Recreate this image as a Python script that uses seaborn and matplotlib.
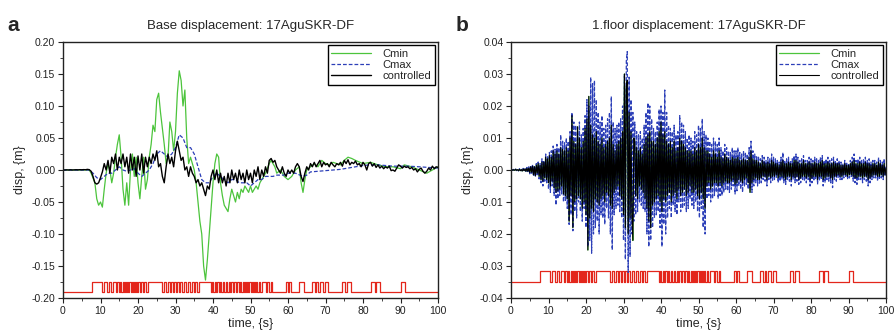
import numpy as np
import pandas as pd
import matplotlib
matplotlib.use("Agg")
import matplotlib.pyplot as plt
from matplotlib.ticker import MultipleLocator, FormatStrFormatter
import seaborn as sns

# ---------------- data (displacements in mm) ----------------
# Panel a: controlled, sampled every 0.5 s from 0 to 100 s
a_ctrl_step = 0.5
a_ctrl_mm = [
    0, 0, 0.2, 0, 0.3, 0, 0.2, 0.4, 0.2, 0.5,
    0.3, 0.6, 0.4, 1.0, 0.5, -2, -10, -20, -22, -20,
    -12, -3, 10, 0, 15, -5, 20, 10, 25, 0,
    20, 10, 25, 5, 20, -5, 25, 0, 20, -10,
    22, 0, 25, -5, 20, 5, 20, 10, 25, 15,
    30, 5, 10, -10, -20, 5, 25, 10, 20, 5,
    30, 45, 30, 15, 20, 0, 5, -10, 5, -5,
    -10, -20, -15, -25, -20, -30, -40, -25, -30, -10,
    0, -15, 0, -20, -5, -20, -10, -25, -5, -20,
    0, -15, -5, -20, 0, -15, -5, -20, 0, -15,
    -5, -20, 0, -10, 5, -15, 0, -10, 5, -5,
    15, 18, 12, 15, 5, 0, -5, 5, -5, -10,
    0, -5, 0, -5, 5, 10, 5, -10, -18, -5,
    5, 0, 10, 5, 12, 5, 10, 15, 5, 12,
    8, 10, 5, 12, 8, 5, 10, 8, 12, 6,
    15, 10, 16, 8, 12, 10, 14, 8, 10, 5,
    12, 8, 0, 10, 12, 6, 10, 4, 8, 3,
    6, 2, 5, 3, 6, -1, 0, -2, 3, 8,
    6, 3, 6, 4, 5, 2, 4, 0, 2, -3,
    1, 3, -2, -5, -2, 3, 0, 6, 2, 5,
    4,
]

# Panel a: Cmin
a_cmin_t = [0, 7, 7.5, 8.5, 9, 9.5, 10, 10.5, 11, 11.5, 12, 12.5, 13, 13.5, 14, 14.5,
            15, 15.5, 16, 16.5, 17, 17.5, 18, 18.5, 19, 19.5, 20, 20.5, 21, 21.5, 22, 22.5,
            23, 23.5, 24, 24.5, 25, 25.5, 26, 26.5, 27, 27.5, 28, 28.5, 29, 29.5, 30, 30.5,
            31, 31.5, 32, 32.5, 33, 33.5, 34, 35, 35.5, 36, 36.5, 37, 37.5, 38, 38.5, 39,
            39.5, 40, 40.5, 41, 41.5, 42, 42.5, 43, 43.5, 44, 44.5, 45, 45.5, 46, 46.5, 47,
            47.5, 48, 48.5, 49, 49.5, 50, 50.5, 51, 51.5, 52, 52.5, 53, 53.5, 54, 55, 55.5,
            56, 56.5, 57, 58, 59, 60, 61, 62, 63, 63.5, 64, 64.5, 65, 66, 67, 68, 69, 70,
            71, 72, 74, 75, 76, 77, 78, 80, 82, 84, 86, 88, 90, 91, 93, 95, 97, 100]
a_cmin_mm = [0, 0, -5, -20, -45, -55, -50, -58, -30, -5, 10, 0, -20, -5, 20, 40,
             55, 20, -30, -55, -20, -55, 0, 25, -10, 20, -20, -45, -10, 20, -30, -15,
             20, 40, 70, 60, 110, 120, 90, 65, 40, 10, 20, 75, 60, 30, 60, 120,
             155, 140, 100, 125, 50, 10, 20, 0, -20, -50, -80, -100, -150, -172, -140, -100,
             -60, -20, 10, 25, 20, -20, -40, -55, -60, -65, -45, -30, -40, -50, -35, -45,
             -30, -35, -25, -30, -35, -25, -35, -30, -25, -30, -20, -15, -10, -5, 10, 15,
             10, 5, -5, 0, -10, -15, -10, 0, 5, -20, -35, -15, 0, 5, 10, 5, 15, 10,
             8, 12, 8, 15, 20, 18, 15, 10, 12, 8, 5, 5, 2, 8, 5, 0, -5, 5]

# Panel a: Cmax
a_cmax_t = [0, 7, 8, 9, 10, 11, 12, 13, 14, 15, 16, 17, 18, 19, 20, 21, 22, 23, 24, 25,
            26, 27, 28, 29, 30, 31, 32, 33, 34, 35, 36, 37, 38, 39, 40, 41, 42, 43, 44, 45,
            46, 47, 48, 49, 50, 51, 52, 53, 54, 55, 56, 57, 58, 59, 60, 62, 64, 65, 66, 68,
            70, 72, 74, 76, 78, 80, 82, 84, 86, 88, 90, 92, 95, 100]
a_cmax_mm = [0, 0, -5, -12, -15, -10, -5, -5, 0, 5, 0, -2, 0, 2, -5, -10, -5, 0, 10, 25,
             30, 25, 20, 25, 35, 55, 50, 35, 35, 25, 5, -15, -20, -20, -10, -5, -10, -15, -20, -15,
             -15, -20, -20, -20, -25, -20, -15, -15, -10, -10, -10, -8, -8, -8, -5, -5, -10, -8, -3, -2,
             -1, 0, 1, 3, 5, 7, 8, 8, 7, 6, 6, 6, 5, 3]

# Panel b: sampled every 0.25 s from 0 to 100 s (one row = one second)
b_step = 0.25
b_cmax_mm = [
    0.0, 0.1, -0.1, 0.2,   -0.2, 0.3, -0.2, 0.2,   -0.3, 0.4, -0.3, 0.2,   -0.4, 0.5, -0.3, 0.4,
    -0.6, 0.8, -0.5, 1.0,  -1.2, 1.5, -1.0, 1.8,   -2.0, 1.5, -2.2, 2.0,   -1.5, 2.5, -2.8, 2.0,
    -4.0, 3.5, -5.0, 3.0,  -3.5, 5.0, -4.0, 4.5,   -6.0, 5.5, -7.0, 6.0,   -5.0, 7.5, -8.0, 6.5,
    -11.0, 8.0, -9.0, 7.0, -8.0, 11.0, -7.5, 9.0,  -10.0, 8.5, -9.5, 10.0, -12.0, 9.0, -17.0, 12.0,
    -14.0, 18.0, -19.0, 15.0, -13.0, 14.0, -15.0, 12.0, -10.0, 15.0, -13.0, 11.0, -16.0, 13.0, -12.0, 17.0,
    -18.0, 22.0, -24.0, 20.0, -22.0, 29.0, -26.0, 27.0, -20.0, 28.0, -18.0, 22.0, -16.0, 18.0, -20.0, 15.0,
    -14.0, 17.0, -15.0, 13.0, -17.0, 14.0, -12.0, 16.0, -15.0, 18.0, -20.0, 23.0, -25.0, 15.0, -14.0, 13.0,
    -12.0, 14.0, -11.0, 15.0, -13.0, 16.0, -15.0, 20.0, -22.0, 30.0, -28.0, 34.0, 37.0, -32.0, 29.0, -27.0,
    22.0, -20.0, 18.0, -16.0, 15.0, -14.0, 12.0, -13.0, 11.0, -10.0, 12.0, -11.0, 10.0, -12.0, 14.0, -13.0,
    18.0, -20.0, 21.0, -24.0, 20.0, -22.0, 16.0, -18.0, 13.0, -15.0, 12.0, -14.0, 15.0, -13.0, 19.0, -18.0,
    20.0, -24.0, 18.0, -17.0, 25.0, -20.0, 18.0, -15.0, 14.0, -12.0, 13.0, -15.0, 12.0, -11.0, 14.0, -13.0,
    11.0, -14.0, 12.0, -10.0, 17.0, -13.0, 15.0, -12.0, 14.0, -11.0, 12.0, -13.0, 10.0, -12.0, 11.0, -9.0,
    10.0, -11.0, 9.0, -12.0, 12.0, -10.0, 11.0, -13.0, 14.0, -15.0, 13.0, -12.0, 16.0, -18.0, 12.0, -20.0,
    11.0, -9.0, 10.0, -8.0, 9.0, -10.0, 8.0, -9.0, 10.0, -8.0, 9.0, -7.0, 8.0, -9.0, 10.0, -8.0,
    7.0, -8.0, 6.0, -7.0, 8.0, -6.0, 7.0, -6.5, 6.0, -7.0, 5.5, -6.0, 7.0, -5.0, 6.0, -7.5,
    6.0, -6.5, 7.0, -5.0, 5.5, -6.0, 5.0, -7.0, 6.0, -5.0, 5.5, -4.5, 5.0, -6.0, 7.0, -5.5,
    9.0, -7.0, 6.0, -5.0, 5.0, -4.0, 4.5, -5.0, 4.0, -4.5, 3.5, -4.0, 4.5, -3.0, 4.0, -3.5,
    3.0, -5.0, 4.0, -3.0, 3.5, -4.0, 5.0, -3.5, 4.0, -3.0, 3.5, -2.5, 3.0, -4.0, 2.5, -3.5,
    4.0, -3.0, 5.5, -4.0, 3.0, -4.5, 3.5, -3.0, 4.0, -3.5, 3.0, -5.0, 3.5, -3.0, 4.5, -4.0,
    5.0, -3.5, 4.0, -4.5, 3.0, -4.0, 3.5, -3.0, 4.5, -3.5, 3.0, -4.0, 3.0, -3.0, 4.0, -5.0,
    3.5, -4.0, 3.0, -3.5, 4.0, -3.0, 3.5, -4.5, 3.0, -3.5, 4.0, -3.0, 4.5, -5.0, 3.0, -4.0,
    3.5, -3.0, 4.0, -3.5, 3.0, -4.0, 3.5, -5.5, 4.0, -3.0, 3.0, -3.5, 3.5, -2.5, 3.0, -3.0,
    2.5, -3.0, 2.0, -2.5, 3.0, -2.0, 2.5, -3.0, 2.0, -2.5, 3.0, -2.0, 4.0, -3.5, 5.0, -4.0,
    3.0, -4.5, 3.5, -3.0, 4.0, -3.0, 3.0, -4.0, 3.5, -3.0, 4.0, -3.5, 3.0, -5.0, 3.5, -4.0,
    2.5, -3.0, 3.0, -2.5, 3.0, -2.5, 2.5, -3.5, 4.0, -3.0, 3.0, -2.5, 2.5, -3.0, 3.5, -2.0,
    1.0,
]
b_ctrl_mm = [
    0.0, 0.1, -0.1, 0.1,   -0.1, 0.2, -0.1, 0.1,   -0.2, 0.2, -0.2, 0.1,   -0.3, 0.3, -0.2, 0.3,
    -0.4, 0.5, -0.4, 0.6,  -0.8, 1.0, -0.7, 1.2,   -1.5, 1.0, -1.8, 1.5,   -1.0, 2.0, -2.0, 1.5,
    -3.0, 2.5, -3.5, 2.5,  -2.5, 4.0, -3.0, 3.5,   -4.0, 4.5, -5.0, 4.0,   -3.5, 6.0, -5.5, 5.0,
    -7.0, 6.0, -6.5, 5.0,  -6.0, 7.0, -5.0, 6.5,   -7.5, 6.0, -8.0, 7.0,   -9.0, 6.0, -16.0, 10.0,
    -8.0, 17.0, -18.0, 9.0, -10.0, 8.0, -9.0, 13.5, -8.0, 10.0, -9.0, 7.0, -12.0, 9.0, -10.0, 13.0,
    -14.0, 16.0, -25.0, 23.0, -15.0, 14.0, -12.0, 11.0, -13.0, 10.0, -9.0, 12.0, -10.0, 9.0, -11.0, 8.0,
    -9.0, 10.0, -8.0, 7.0, -10.0, 8.0, -7.0, 9.0, -8.0, 10.0, -11.0, 14.0, -12.0, 8.0, -7.0, 6.0,
    -6.0, 8.0, -5.0, 9.0, -8.0, 10.0, -9.0, 12.0, -14.0, 30.0, -18.0, 26.0, 28.0, -20.0, 18.0, -15.0,
    12.0, -14.0, -22.0, 10.0, 9.0, -8.0, 7.0, -9.0, 6.0, -5.0, 7.0, -6.0, 5.0, -7.0, 8.0, -9.0,
    10.0, -12.0, 11.0, -16.0, 12.0, -18.0, 9.0, -11.0, 9.0, -10.0, 8.0, -9.0, 10.0, -8.0, 12.0, -10.0,
    15.0, -13.0, 11.0, -9.0, 12.0, -10.0, 9.0, -8.0, 8.0, -7.0, 9.0, -10.0, 7.0, -8.0, 9.0, -7.0,
    6.0, -9.0, 7.0, -6.0, 10.0, -8.0, 9.0, -7.0, 8.0, -6.0, 7.0, -8.0, 6.0, -7.0, 6.0, -5.0,
    6.0, -7.0, 5.0, -7.0, 7.0, -6.0, 6.0, -8.0, 8.0, -9.0, 7.0, -7.0, 10.0, -9.0, 7.0, -12.0,
    6.0, -5.0, 6.0, -4.0, 5.0, -6.0, 4.0, -5.0, 6.0, -4.0, 5.0, -4.0, 4.0, -5.0, 6.0, -4.0,
    4.0, -5.0, 3.5, -4.0, 5.0, -3.5, 4.0, -4.0, 3.5, -4.0, 3.0, -3.5, 4.0, -3.0, 3.5, -4.5,
    3.5, -4.0, 4.0, -3.0, 3.0, -3.5, 3.0, -4.0, 3.5, -3.0, 3.0, -2.5, 3.0, -4.0, 4.0, -7.0,
    6.0, -4.0, 3.5, -3.0, 3.0, -2.5, 3.0, -3.0, 2.5, -3.0, 2.0, -2.5, 3.0, -2.0, 2.5, -2.0,
    2.0, -3.0, 2.5, -2.0, 2.0, -2.5, 3.0, -2.0, 2.5, -2.0, 2.0, -1.5, 2.0, -2.5, 1.5, -2.0,
    2.5, -2.0, 3.0, -2.5, 2.0, -3.0, 2.0, -2.0, 2.5, -2.0, 2.0, -3.0, 2.0, -2.0, 3.0, -2.5,
    3.0, -2.0, 2.5, -3.0, 2.0, -2.5, 2.0, -2.0, 3.0, -2.0, 2.0, -2.5, 2.0, -2.0, 2.5, -3.0,
    2.0, -2.5, 2.0, -2.0, 2.5, -2.0, 2.0, -3.0, 2.0, -2.0, 2.5, -2.0, 3.0, -3.0, 2.0, -2.5,
    2.0, -2.0, 2.5, -2.0, 2.0, -2.5, 2.0, -3.0, 2.5, -2.0, 2.0, -2.0, 2.0, -1.5, 2.0, -2.0,
    1.5, -2.0, 1.5, -1.5, 2.0, -1.5, 1.5, -2.0, 1.5, -1.5, 2.0, -1.5, 2.5, -2.0, 3.0, -2.5,
    2.0, -2.5, 2.0, -2.0, 2.5, -2.0, 2.0, -2.5, 2.0, -2.0, 2.5, -2.0, 2.0, -3.0, 2.0, -2.5,
    1.5, -2.0, 2.0, -1.5, 2.0, -1.5, 1.5, -2.0, 2.5, -2.0, 2.0, -1.5, 1.5, -2.0, 2.0, -1.5,
    0.5,
]

# Control (on/off) signal: switching instants in s, starting in the "off" state
switch_times = [7.6, 10.5, 11.0, 11.6, 12.2, 12.9, 13.4, 14.0, 14.5, 14.8, 15.2, 15.5, 15.9, 16.2,
                16.5, 16.8, 17.1, 17.4, 17.7, 18.0, 18.3, 18.6, 18.9, 19.2, 19.5, 19.8, 20.1, 20.4,
                20.8, 21.2, 21.5, 22.2, 22.7, 26.3, 26.8, 27.4, 27.9, 28.4, 28.8, 29.3, 29.7, 30.1,
                30.5, 30.9, 31.3, 31.8, 32.3, 32.8, 33.3, 33.9, 34.4, 34.9, 35.3, 35.7, 36.2, 39.4,
                39.7, 40.0, 40.4, 40.7, 41.1, 41.5, 41.9, 42.2, 42.6, 43.0, 43.4, 43.8, 44.2, 44.5,
                44.9, 45.3, 45.7, 46.1, 46.5, 46.8, 47.2, 47.5, 47.9, 48.2, 48.5, 48.8, 49.1, 49.4,
                49.7, 50.0, 50.3, 50.6, 50.9, 51.2, 51.5, 51.8, 52.2, 52.6, 53.0, 54.0, 54.5, 55.0,
                55.4, 55.8, 59.4, 60.0, 60.3, 60.7, 63.0, 64.3, 66.5, 67.3, 67.6, 68.1, 68.5, 69.4,
                69.8, 70.6, 74.5, 75.2, 75.6, 76.8, 82.2, 83.1, 83.5, 84.6, 90.2, 91.3]
a_ctrl_levels_mm = [-190.0, -175.0]   # off, on
b_ctrl_levels_mm = [-35.0, -31.7]

titles = ["Base displacement: 17AguSKR-DF", "1.floor displacement: 17AguSKR-DF"]
panel_letters = ["a", "b"]

# ---------------- build frames ----------------
def grid(vals, step):
    return np.arange(len(vals)) * step

assert len(a_ctrl_mm) == 201, len(a_ctrl_mm)
assert len(a_cmin_t) == len(a_cmin_mm), (len(a_cmin_t), len(a_cmin_mm))
assert len(a_cmax_t) == len(a_cmax_mm), (len(a_cmax_t), len(a_cmax_mm))
assert len(b_cmax_mm) == 401, len(b_cmax_mm)
assert len(b_ctrl_mm) == 401, len(b_ctrl_mm)

sw_t = np.array([0.0] + switch_times + [100.0])
sw_state = np.array([i % 2 for i in range(len(switch_times) + 1)] + [len(switch_times) % 2])

def signal_frame(levels):
    return pd.DataFrame({"t": sw_t, "v": np.array(levels)[sw_state] / 1000.0})

panels = [
    dict(cmin=pd.DataFrame({"t": a_cmin_t, "v": np.array(a_cmin_mm) / 1000}),
         cmax=pd.DataFrame({"t": a_cmax_t, "v": np.array(a_cmax_mm) / 1000}),
         ctrl=pd.DataFrame({"t": grid(a_ctrl_mm, a_ctrl_step), "v": np.array(a_ctrl_mm) / 1000}),
         sig=signal_frame(a_ctrl_levels_mm),
         ylim=(-0.20, 0.20), major=0.05, minor=0.025, ctrl_lw=1.0),
    dict(cmin=pd.DataFrame({"t": grid(b_ctrl_mm, b_step), "v": np.array(b_ctrl_mm) / 1000}),
         cmax=pd.DataFrame({"t": grid(b_cmax_mm, b_step), "v": np.array(b_cmax_mm) / 1000}),
         ctrl=pd.DataFrame({"t": grid(b_ctrl_mm, b_step), "v": np.array(b_ctrl_mm) / 1000}),
         sig=signal_frame(b_ctrl_levels_mm),
         ylim=(-0.04, 0.04), major=0.01, minor=0.005, ctrl_lw=0.8),
]

# ---------------- style ----------------
sns.set_style("ticks")
plt.rcParams["font.family"] = ["Liberation Sans", "DejaVu Sans"]
plt.rcParams["axes.unicode_minus"] = False
plt.rcParams["lines.dashed_pattern"] = [3.0, 1.6]

GREEN = "#4cc43c"
BLUE = "#2c3fb8"
RED = "#e3261b"

fig = plt.figure(figsize=(8.94, 3.36), dpi=100)
lefts = [63 / 894, 511 / 894]
width = 375 / 894
bottom = 38 / 336
height = 256 / 336

for i, p in enumerate(panels):
    ax = fig.add_axes([lefts[i], bottom, width, height])
    sns.lineplot(data=p["sig"], x="t", y="v", ax=ax, color=RED, lw=0.9,
                 drawstyle="steps-post", estimator=None, sort=False, legend=False)
    sns.lineplot(data=p["cmin"], x="t", y="v", ax=ax, color=GREEN, lw=0.9,
                 estimator=None, sort=False, label="Cmin")
    sns.lineplot(data=p["cmax"], x="t", y="v", ax=ax, color=BLUE, lw=0.9, linestyle="--",
                 estimator=None, sort=False, label="Cmax")
    sns.lineplot(data=p["ctrl"], x="t", y="v", ax=ax, color="black", lw=p["ctrl_lw"],
                 estimator=None, sort=False, label="controlled")

    ax.set_xlim(0, 100)
    ax.set_ylim(*p["ylim"])
    ax.xaxis.set_major_locator(MultipleLocator(10))
    ax.xaxis.set_minor_locator(MultipleLocator(5))
    ax.yaxis.set_major_locator(MultipleLocator(p["major"]))
    ax.yaxis.set_minor_locator(MultipleLocator(p["minor"]))
    ax.yaxis.set_major_formatter(FormatStrFormatter("%.2f"))
    ax.tick_params(axis="both", which="major", labelsize=7.5, length=3.5, width=0.8,
                   direction="out", pad=2, colors="#222222")
    ax.tick_params(axis="both", which="minor", length=2, width=0.6, direction="out")
    for s in ax.spines.values():
        s.set_visible(True)
        s.set_linewidth(1.0)
        s.set_color("#222222")
    ax.set_xlabel("time, {s}", fontsize=9, labelpad=2)
    ax.set_ylabel("disp, {m}", fontsize=9, labelpad=4)
    ax.set_title(titles[i], fontsize=9.5, pad=9)
    leg = ax.legend(loc="upper right", fontsize=8, frameon=True, fancybox=False,
                    framealpha=1, edgecolor="black", handlelength=3.6, borderpad=0.3,
                    labelspacing=0.12, handletextpad=1.0, borderaxespad=0.3)
    leg.get_frame().set_linewidth(1.0)
    fig.text(lefts[i] - 0.062, 0.925, panel_letters[i], fontsize=15, fontweight="bold",
             ha="left", va="center")

fig.savefig("out.png", dpi=100)
